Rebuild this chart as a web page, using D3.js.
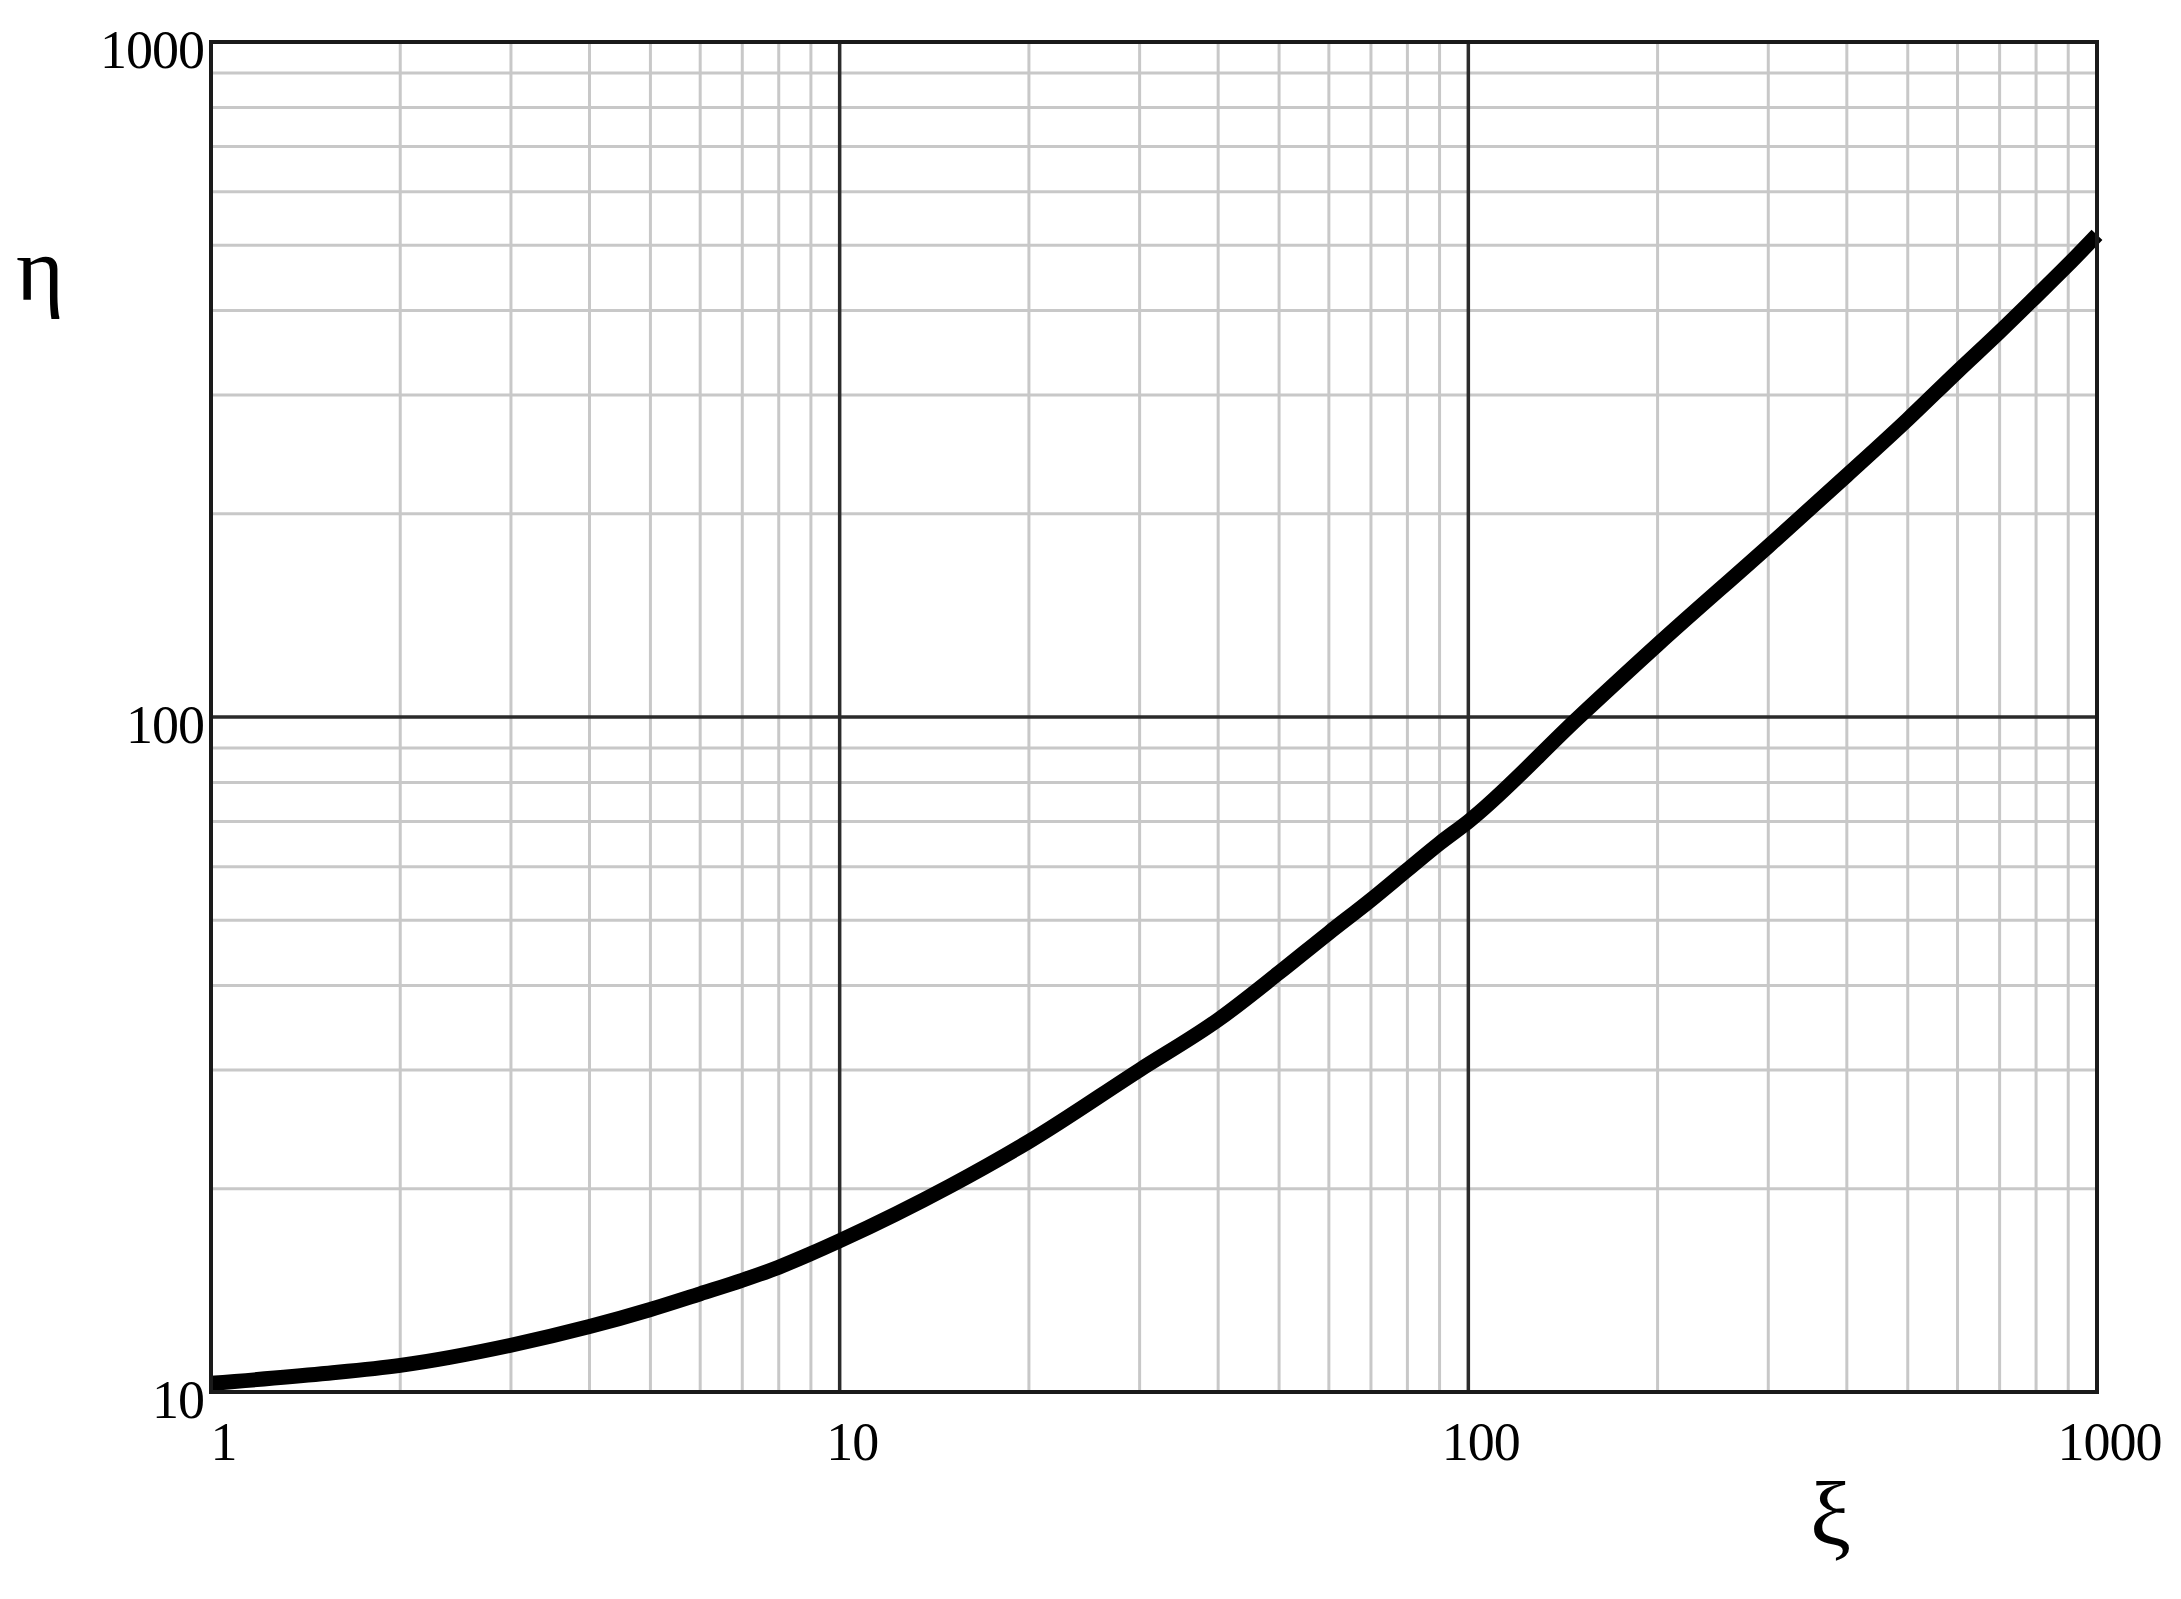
<!DOCTYPE html>
<html>
<head>
<meta charset="utf-8">
<script src="https://cdn.jsdelivr.net/npm/d3@7/dist/d3.min.js"></script>
<style>
  html, body { margin: 0; padding: 0; background: #fff; }
  svg { display: block; }
</style>
</head>
<body>
<svg id="chart" width="2181" height="1599"></svg>
<script>
// ---- data ----
const xiValues  = [1, 1.5, 2, 3, 4, 5, 6, 7, 8, 9, 10, 15, 20, 30, 40, 50, 60, 70, 80, 90, 100, 150, 200, 300, 400, 500, 600, 700, 800, 900, 1000];
const etaValues = [10.3, 10.64, 10.95, 11.73, 12.5, 13.25, 13.98, 14.64, 15.31, 16.03, 16.75, 20.2, 23.5, 30.0, 35.6, 41.8, 47.9, 53.6, 59.4, 65.0, 70.0, 100, 128, 179, 228, 276, 325, 372, 420, 468, 518];
const xTickLabels = [1, 10, 100, 1000];
const yTickLabels = [10, 100, 1000];
const xLabel = "ξ";
const yLabel = "η";

// ---- layout ----
const L = 211, R = 2097, T = 42, B = 1392;
const svg = d3.select("#chart");
svg.append("rect").attr("width", 2181).attr("height", 1599).attr("fill", "#fff");

const x = d3.scaleLog().domain([1, 1000]).range([L, R]);
const y = d3.scaleLog().domain([10, 1000]).range([B, T]);

// minor grid
const minorX = [], minorY = [];
[1, 10, 100].forEach(d => { for (let k = 2; k <= 9; k++) minorX.push(d * k); });
[10, 100].forEach(d => { for (let k = 2; k <= 9; k++) minorY.push(d * k); });

const grid = svg.append("g");
grid.selectAll("line.mx").data(minorX).join("line")
  .attr("x1", d => x(d)).attr("x2", d => x(d)).attr("y1", T).attr("y2", B)
  .attr("stroke", "#c8c8c8").attr("stroke-width", 3);
grid.selectAll("line.my").data(minorY).join("line")
  .attr("y1", d => y(d)).attr("y2", d => y(d)).attr("x1", L).attr("x2", R)
  .attr("stroke", "#c8c8c8").attr("stroke-width", 3);
// major grid
grid.selectAll("line.Mx").data([10, 100]).join("line")
  .attr("x1", d => x(d)).attr("x2", d => x(d)).attr("y1", T).attr("y2", B)
  .attr("stroke", "#2b2b2b").attr("stroke-width", 3.5);
grid.selectAll("line.My").data([100]).join("line")
  .attr("y1", d => y(d)).attr("y2", d => y(d)).attr("x1", L).attr("x2", R)
  .attr("stroke", "#2b2b2b").attr("stroke-width", 3.5);

// curve
const data = xiValues.map((v, i) => ({ xi: v, eta: etaValues[i] }));
const line = d3.line().x(d => x(d.xi)).y(d => y(d.eta)).curve(d3.curveMonotoneX);
svg.append("path").datum(data).attr("d", line)
  .attr("fill", "none").attr("stroke", "#000").attr("stroke-width", 15)
  .attr("stroke-linejoin", "round");

// border
svg.append("rect").attr("x", L).attr("y", T).attr("width", R - L).attr("height", B - T)
  .attr("fill", "none").attr("stroke", "#1a1a1a").attr("stroke-width", 4);

// axes labels
const fontFam = "'Liberation Serif', 'Times New Roman', serif";
const xAxis = svg.append("g").attr("transform", `translate(0,${B})`)
  .call(d3.axisBottom(x).tickValues(xTickLabels).tickSize(0).tickFormat(d3.format("d")));
xAxis.select(".domain").remove();
xAxis.selectAll("text")
  .attr("x", 12).attr("y", 68).attr("dy", null)
  .attr("font-family", fontFam).attr("font-size", 54).attr("letter-spacing", -1)
  .attr("fill", "#000");

const yAxis = svg.append("g").attr("transform", `translate(${L},0)`)
  .call(d3.axisLeft(y).tickValues(yTickLabels).tickSize(0).tickFormat(d3.format("d")));
yAxis.select(".domain").remove();
yAxis.selectAll("text")
  .attr("x", -7).attr("y", 25).attr("dy", null)
  .attr("font-family", fontFam).attr("font-size", 54).attr("letter-spacing", -1)
  .attr("fill", "#000");

svg.append("text").attr("x", 16).attr("y", 300).text(yLabel)
  .attr("font-family", fontFam).attr("font-size", 92).attr("fill", "#000");
svg.append("text").attr("x", 1810).attr("y", 1545).text(xLabel)
  .attr("font-family", fontFam).attr("font-size", 92).attr("fill", "#000");
</script>
</body>
</html>
